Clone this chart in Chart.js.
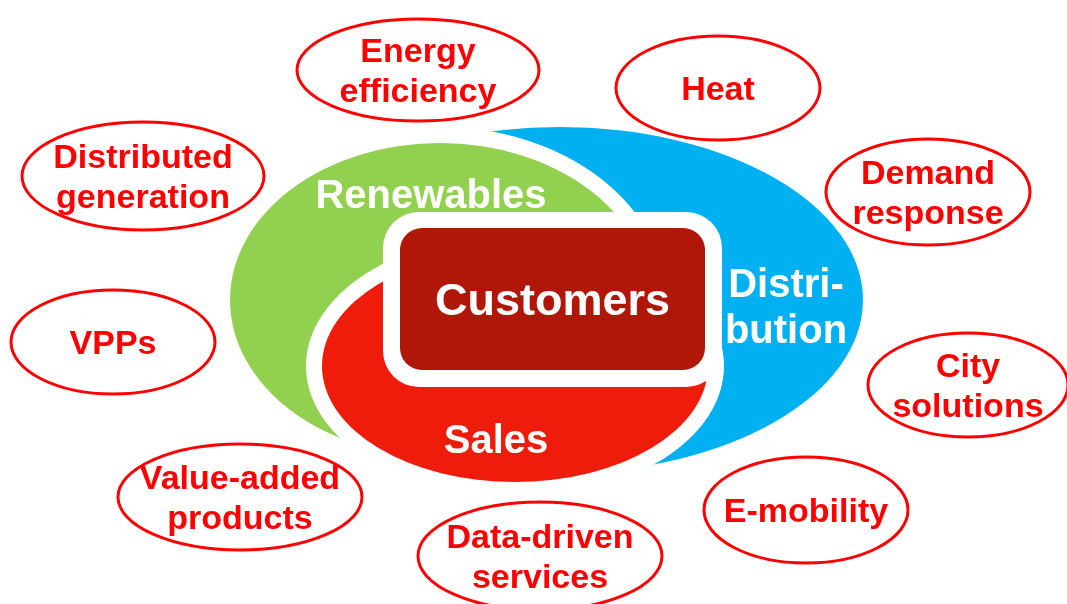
<!DOCTYPE html>
<html>
<head>
<meta charset="utf-8">
<script src="https://cdn.jsdelivr.net/npm/chart.js@4.4.0/dist/chart.umd.min.js"></script>
<style>
  html, body { margin: 0; padding: 0; background: #fff; }
  #wrap { width: 1067px; height: 604px; position: relative; }
</style>
</head>
<body>
<div id="wrap"><canvas id="chart"></canvas></div>
<script>
// outer topics (red ovals)
const topics = [['Energy', 'efficiency'], ['Heat'], ['Distributed', 'generation'], ['Demand', 'response'],
  ['VPPs'], ['City', 'solutions'], ['Value-added', 'products'], ['E-mobility'], ['Data-driven', 'services']];
const topicX = [418, 718, 143, 928, 113, 968, 240, 806, 540];
const topicY = [70, 88, 176, 192, 342, 385, 497, 510, 556];
const topicRx = [121, 102, 121, 102, 102, 100, 122, 102, 122];
const topicRy = [51, 52, 54, 53, 52, 52, 53, 53, 54];

// core segments, back to front
const segments = [['Distri-', 'bution'], ['Renewables'], ['Sales']];
const segX = [560, 440, 515];
const segY = [300, 300, 366];
const segRx = [303, 210, 193];
const segRy = [173, 157, 116];
const segLabelX = [786, 431, 496];
const segLabelY = [297, 208, 453];
const segColors = ['#00b0f0', '#92d050', '#ef1c0b'];

// hub box
const hub = 'Customers';
const hubX = [400, 705];
const hubY = [228, 370];

const FONT = '"Liberation Sans", Arial, sans-serif';

const diagramPlugin = {
  id: 'diagram',
  afterDatasetsDraw(chart) {
    const ctx = chart.ctx;
    const xs = chart.scales.x;
    const ys = chart.scales.y;
    const px = v => xs.getPixelForValue(v);
    const py = v => ys.getPixelForValue(v);

    const ellipse = (cx, cy, rx, ry) => {
      ctx.beginPath();
      ctx.ellipse(px(cx), py(cy), Math.abs(px(cx + rx) - px(cx)), Math.abs(py(cy + ry) - py(cy)), 0, 0, 2 * Math.PI);
    };

    ctx.save();
    // core ellipses with white gaps between them
    segments.forEach((s, i) => {
      if (i > 0) {
        ellipse(segX[i], segY[i], segRx[i] + 16, segRy[i] + 16);
        ctx.fillStyle = '#ffffff';
        ctx.fill();
      }
      ellipse(segX[i], segY[i], segRx[i], segRy[i]);
      ctx.fillStyle = segColors[i];
      ctx.fill();
    });

    // hub box
    const x0 = px(hubX[0]), x1 = px(hubX[1]), y0 = py(hubY[0]), y1 = py(hubY[1]);
    ctx.beginPath();
    ctx.roundRect(x0 - 17, y0 - 16, x1 - x0 + 34, y1 - y0 + 33, 36);
    ctx.fillStyle = '#ffffff';
    ctx.fill();
    ctx.beginPath();
    ctx.roundRect(x0, y0, x1 - x0, y1 - y0, 22);
    ctx.fillStyle = '#b01708';
    ctx.fill();

    ctx.textAlign = 'center';
    ctx.textBaseline = 'alphabetic';
    ctx.fillStyle = '#ffffff';
    ctx.font = 'bold 45px ' + FONT;
    ctx.fillText(hub, (x0 + x1) / 2, py(315));

    const segSize = [40, 40, 40];
    segments.forEach((lines, i) => {
      ctx.font = 'bold ' + segSize[i] + 'px ' + FONT;
      lines.forEach((t, j) => {
        ctx.fillText(t, px(segLabelX[i]), py(segLabelY[i] + j * 46));
      });
    });

    // red topic ovals
    ctx.strokeStyle = '#ff0000';
    ctx.lineWidth = 3;
    ctx.fillStyle = '#ff0000';
    ctx.font = 'bold 34px ' + FONT;
    topics.forEach((lines, i) => {
      ellipse(topicX[i], topicY[i], topicRx[i], topicRy[i]);
      ctx.stroke();
      const first = lines.length === 1 ? topicY[i] + 12 : topicY[i] - 8;
      lines.forEach((t, j) => {
        ctx.fillText(t, px(topicX[i]), py(first + j * 40));
      });
    });
    ctx.restore();
  }
};

new Chart(document.getElementById('chart'), {
  type: 'scatter',
  data: {
    datasets: [{
      label: 'topics',
      data: topicX.map((x, i) => ({ x: x, y: topicY[i] })),
      pointRadius: 0
    }, {
      label: 'segments',
      data: segX.map((x, i) => ({ x: x, y: segY[i] })),
      pointRadius: 0
    }]
  },
  options: {
    responsive: true,
    maintainAspectRatio: false,
    animation: false,
    layout: { padding: 0 },
    plugins: { legend: { display: false }, tooltip: { enabled: false } },
    scales: {
      x: { type: 'linear', min: 0, max: 1067, display: false },
      y: { type: 'linear', min: 0, max: 604, reverse: true, display: false }
    }
  },
  plugins: [diagramPlugin]
});
</script>
</body>
</html>
